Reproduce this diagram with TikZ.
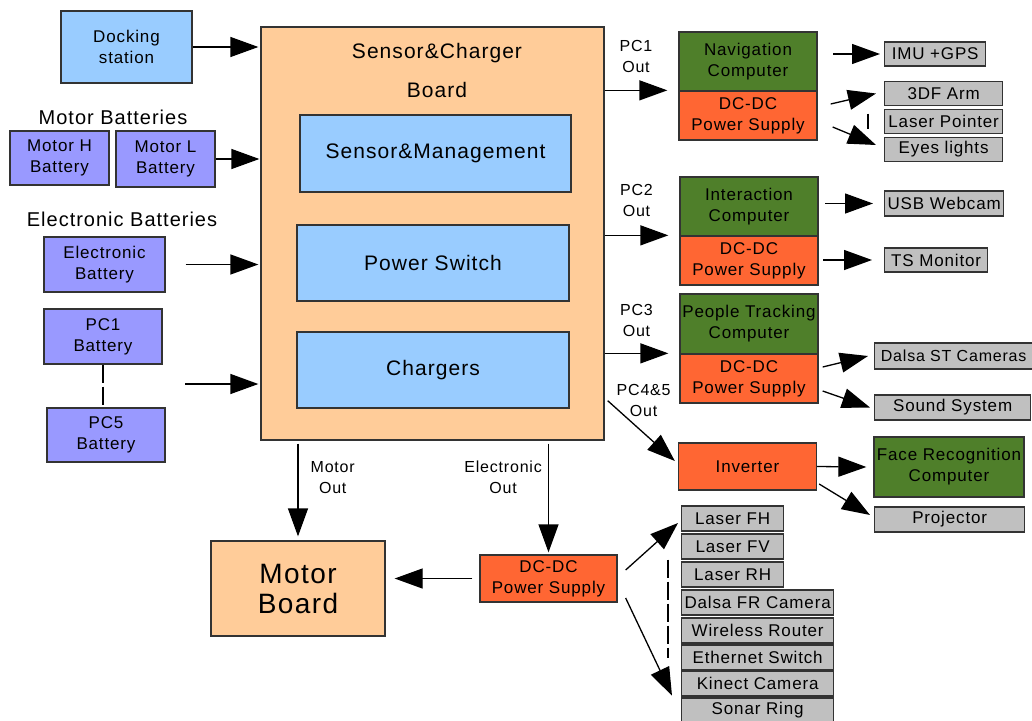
\documentclass[tikz,border=0pt]{standalone}
\usepackage{fontspec}
\setmainfont[LetterSpace=5]{Liberation Sans}
\usepackage{tikz}
\usetikzlibrary{shapes,arrows.meta}
\definecolor{peach}{HTML}{FFCC99}
\definecolor{skyblue}{HTML}{99CCFF}
\definecolor{lilac}{HTML}{9999FF}
\definecolor{pcgreen}{HTML}{4F7F2A}
\definecolor{dcorange}{HTML}{FF6633}
\definecolor{partgray}{HTML}{C0C0C0}
\definecolor{edgegray}{HTML}{333333}
\tikzstyle{block} = [rectangle, draw=edgegray, line width=1.3pt, inner sep=0pt,
align=center, font=\fontsize{17}{21}\selectfont]
\tikzstyle{board} = [block, fill=peach]
\tikzstyle{unit} = [block, fill=skyblue]
\tikzstyle{battery} = [block, fill=lilac]
\tikzstyle{computer} = [block, fill=pcgreen, minimum width=138pt, minimum height=59pt]
\tikzstyle{supply} = [block, fill=dcorange, minimum width=138pt, minimum height=49pt]
\tikzstyle{part} = [block, fill=partgray, anchor=west, minimum height=25pt]
\tikzstyle{heading} = [font=\fontsize{20}{24}\selectfont]
\tikzstyle{tag} = [align=center, inner sep=0pt, font=\fontsize{16}{21}\selectfont]
\tikzstyle{line} = [draw, line width=1.3pt, -{Triangle[length=28pt,width=20pt]}]
\tikzstyle{gap} = [line width=1.3pt, dash pattern=on 18pt off 4pt]

\begin{document}
\begin{tikzpicture}[x=1pt, y=-1pt]
\useasboundingbox (0,0) rectangle (1032,720);
% Place nodes
\node [unit, minimum width=131pt, minimum height=72pt] (dock) at (126.5,47) {Docking\\station};
\node [board, minimum width=343pt, minimum height=413pt] (board) at (432.5,233.5) {};
\node [font=\fontsize{21}{24}\selectfont, align=center] (boardname) at (437,70) {Sensor\&Charger\\[15pt]Board};
\node [unit, font=\fontsize{21}{24}\selectfont, minimum width=271pt, minimum height=77pt] (sensing) at (435.5,153.5) {Sensor\&Management};
\node [unit, font=\fontsize{21}{24}\selectfont, minimum width=272pt, minimum height=76pt] (switch) at (433,263) {Power Switch};
\node [unit, font=\fontsize{21}{24}\selectfont, minimum width=272pt, minimum height=76pt] (chargers) at (433,370) {Chargers};
\node [heading] (motorhead) at (113,117) {Motor Batteries};
\node [battery, minimum width=99pt, minimum height=54pt] (motorH) at (59.5,158) {Motor H\\Battery};
\node [battery, minimum width=99pt, minimum height=56pt] (motorL) at (165.5,159) {Motor L\\Battery};
\node [heading] (elechead) at (122,219) {Electronic Batteries};
\node [battery, minimum width=121pt, minimum height=55pt] (elecbat) at (104.5,264.5) {Electronic\\Battery};
\node [battery, minimum width=118pt, minimum height=55pt] (pcone) at (103,336.5) {PC1\\Battery};
\node [battery, minimum width=118pt, minimum height=54pt] (pcfive) at (106,435) {PC5\\Battery};
\coordinate (pcbus) at (185,384);
\node [board, font=\fontsize{28}{30}\selectfont, minimum width=174pt, minimum height=95pt] (motorboard) at (298,588.5) {Motor\\Board};
\node [supply, minimum width=137pt, minimum height=47pt] (maindc) at (548.5,578.5) {DC-DC\\Power Supply};
\node [computer] (navcomp) at (748,61.5) {Navigation\\Computer};
\node [supply] (navdc) at (748,115.5) {DC-DC\\Power Supply};
\node [computer] (intcomp) at (749,206.5) {Interaction\\Computer};
\node [supply] (intdc) at (749,260.5) {DC-DC\\Power Supply};
\node [computer, minimum height=60pt] (trackcomp) at (749,324) {People Tracking\\Computer};
\node [supply] (trackdc) at (749,378.5) {DC-DC\\Power Supply};
\node [supply, minimum height=47pt] (inverter) at (747.5,466.5) {Inverter};
\node [computer, minimum width=150pt, minimum height=60pt] (facecomp) at (949,467) {Face Recognition\\Computer};
\node [part, minimum width=101pt, minimum height=24pt] (imu) at (884,54) {IMU +GPS};
\node [part, minimum width=118pt, minimum height=24pt] (arm) at (884,93.5) {3DF Arm};
\node [part, minimum width=118pt, minimum height=24pt] (pointer) at (884,121.5) {Laser Pointer};
\node [part, minimum width=118pt, minimum height=24pt] (eyes) at (884,149.5) {Eyes lights};
\node [part, minimum width=119pt] (webcam) at (884,203.5) {USB Webcam};
\node [part, minimum width=103pt, minimum height=24pt] (monitor) at (884,260) {TS Monitor};
\node [part, font=\fontsize{16}{20}\selectfont, minimum width=166pt, minimum height=26pt] (dalsast) at (874,356) {Dalsa ST Cameras\hspace*{8pt}};
\node [part, minimum width=156pt] (sound) at (874,407.5) {Sound System};
\node [part, minimum width=150pt] (projector) at (874,519.5) {Projector};
\node [part, minimum width=102pt] (laserfh) at (681,518.5) {Laser FH};
\node [part, minimum width=102pt] (laserfv) at (681,546.5) {Laser FV};
\node [part, minimum width=102pt] (laserrh) at (681,574.5) {Laser RH};
\node [part, minimum width=152pt] (dalsafr) at (681,602.5) {Dalsa FR Camera};
\node [part, minimum width=152pt] (wireless) at (681,630.5) {Wireless Router};
\node [part, minimum width=152pt] (ethernet) at (681,657.5) {Ethernet Switch};
\node [part, minimum width=152pt] (kinect) at (681,683.5) {Kinect Camera};
\node [part, minimum width=152pt] (sonar) at (681,710.5) {Sonar Ring};
% Draw edges
\path [line, shorten >=2pt] (dock) -- (dock -| board.west);
\path [line, shorten >=1pt] (motorL) -- (motorL -| board.west);
\path [line, shorten >=2pt] ([xshift=20pt]elecbat.east) -- (elecbat -| board.west);
\path [line, shorten >=2pt] (pcbus) -- (pcbus -| board.west);
\draw [gap] (pcone.south) -- (pcone.south |- pcfive.north);
\path [line, shorten >=4pt] ([yshift=-3pt]board.south -| motorboard) -- node [tag, right=12pt, pos=0.35] {Motor\\Out} (motorboard.north);
\path [line, shorten >=2pt] ([yshift=-3pt]board.south -| maindc) -- node [tag, left=6pt, pos=0.3] {Electronic\\Out} (maindc.north);
\path [line, shorten >=9pt] ([xshift=-7pt]maindc.west) -- (maindc.west -| motorboard.east);
\path [line] ([xshift=8pt,yshift=8.5pt]maindc.east) -- ([xshift=-3pt,yshift=-4.5pt]laserfh.west);
\path [line] ([xshift=8pt,yshift=-19.5pt]maindc.east) -- ([xshift=-9pt,yshift=1pt]kinect.south west);
\draw [gap] ([xshift=-13pt]laserfv.south west) -- ([xshift=-13pt]ethernet.west);
\path [line] (board.east |- navdc.north) -- node [tag, midway, yshift=34pt] {PC1\\Out} ([xshift=-11pt]navdc.north west);
\path [line] (board.east |- intdc.north) -- node [tag, midway, yshift=35pt] {PC2\\Out} ([xshift=-11pt]intdc.north west);
\path [line] (board.east |- trackdc.north) -- node [tag, midway, yshift=33pt] {PC3\\Out} ([xshift=-11pt]trackdc.north west);
\path [line] ([xshift=3pt,yshift=40pt]board.south east) -- node [tag, at start, xshift=36pt] {PC4\&5\\Out} ([xshift=-3pt,yshift=5.5pt]inverter.west);
\path [line] ([xshift=-51pt]imu.west) -- ([xshift=-4pt]imu.west);
\path [line] ([xshift=13pt,yshift=11.5pt]navdc.east) -- ([xshift=-8pt]arm.west);
\path [line] ([xshift=15pt,yshift=-11.5pt]navdc.east) -- ([xshift=-8pt,yshift=4.5pt]eyes.west);
\draw [line width=1.3pt] ([xshift=-16pt,yshift=8pt]pointer.west) -- ([xshift=-16pt,yshift=-7pt]pointer.west);
\path [line] ([xshift=-59pt]webcam.west) -- ([xshift=-11pt]webcam.west);
\path [line] ([xshift=-61pt]monitor.west) -- ([xshift=-12pt]monitor.west);
\path [line] ([xshift=4pt,yshift=11.5pt]trackdc.east) -- ([xshift=-6pt]dalsast.west);
\path [line] ([xshift=4pt,yshift=-12.5pt]trackdc.east) -- ([xshift=-4pt]sound.west);
\path [line] (inverter.east) -- ([xshift=-7pt]facecomp.west);
\path [line] ([xshift=2pt,yshift=-17.5pt]inverter.east) -- ([xshift=-4pt,yshift=4.5pt]projector.west);
\end{tikzpicture}
\end{document}
